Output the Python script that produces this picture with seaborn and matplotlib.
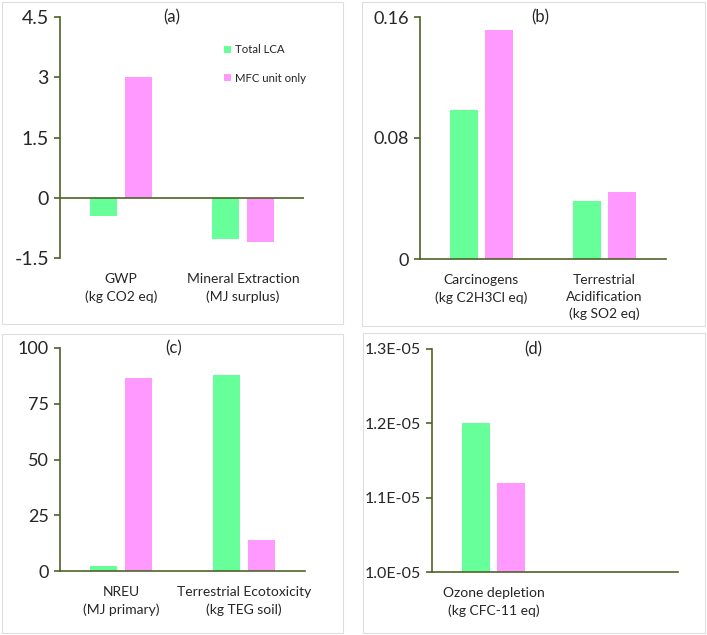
import numpy as np
import pandas as pd
import matplotlib
matplotlib.use("Agg")
import matplotlib.pyplot as plt
from matplotlib.patches import Rectangle, Patch
import seaborn as sns

#### Data
series = ["Total LCA", "MFC unit only"]
colors = {"Total LCA": "#66ff99", "MFC unit only": "#ff99ff"}

a_cats = ["GWP\n(kg CO2 eq)", "Mineral Extraction\n(MJ surplus)"]
a_total = [-0.45, -1.02]
a_mfc = [3.0, -1.1]
a_ticks = [-1.5, 0, 1.5, 3, 4.5]
a_ticklabels = ["-1.5", "0", "1.5", "3", "4.5"]

b_cats = ["Carcinogens\n(kg C2H3Cl eq)", "Terrestrial\nAcidification\n(kg SO2 eq)"]
b_total = [0.0985, 0.0383]
b_mfc = [0.1514, 0.0443]
b_ticks = [0, 0.08, 0.16]
b_ticklabels = ["0", "0.08", "0.16"]

c_cats = ["NREU\n(MJ primary)", "Terrestrial Ecotoxicity\n(kg TEG soil)"]
c_total = [2.2, 87.9]
c_mfc = [86.5, 13.9]
c_ticks = [0, 25, 50, 75, 100]
c_ticklabels = ["0", "25", "50", "75", "100"]

d_cats = ["Ozone depletion\n(kg CFC-11 eq)"]
d_total = [1.2e-05]
d_mfc = [1.12e-05]
d_ticks = [1.0e-05, 1.1e-05, 1.2e-05, 1.3e-05]
d_ticklabels = ["1.0E-05", "1.1E-05", "1.2E-05", "1.3E-05"]

#### Style
sns.set_style("white")
plt.rcParams['font.family'] = ['Lato', 'DejaVu Sans']
axis_col = "#4f6228"

W, H = 707, 635
fig = plt.figure(figsize=(W / 100, H / 100), dpi=100)


def px_axes(left, right, top, bottom):
    return fig.add_axes([left / W, 1 - bottom / H, (right - left) / W, (bottom - top) / H])


def long_df(cats, total, mfc):
    return pd.DataFrame({
        "cat": cats * 2,
        "series": [series[0]] * len(cats) + [series[1]] * len(cats),
        "value": list(total) + list(mfc),
    })


def draw_panel(ax, cats, total, mfc, ticks, ticklabels, ylim, tick_fs=13, zero_line=False):
    df = long_df(cats, total, mfc)
    sns.barplot(data=df, x="cat", y="value", hue="series", hue_order=series,
                palette=colors, width=0.57, gap=0.22, saturation=1,
                legend=False, ax=ax)
    ax.set_xlim(-0.5, 1.5)
    ax.set_ylim(*ylim)
    ax.set_yticks(ticks)
    ax.set_yticklabels(ticklabels, fontsize=tick_fs)
    ax.set_xticks(range(len(cats)))
    ax.set_xticklabels(cats, fontsize=10, linespacing=1.45)
    ax.set_xlabel("")
    ax.set_ylabel("")
    for s in ["top", "right"]:
        ax.spines[s].set_visible(False)
    ax.spines["left"].set_color(axis_col)
    ax.spines["left"].set_linewidth(1.2)
    if zero_line:
        ax.spines["bottom"].set_visible(False)
        ax.axhline(0, color=axis_col, lw=1.2, zorder=3)
    else:
        ax.spines["bottom"].set_color(axis_col)
        ax.spines["bottom"].set_linewidth(1.2)
    ax.tick_params(axis="y", left=True, length=4, width=1.2, color=axis_col, pad=4)
    ax.tick_params(axis="x", bottom=False, length=0, pad=11)
    for p in ax.patches:
        p.set_edgecolor("none")


ax_a = px_axes(60, 304, 17, 258)
draw_panel(ax_a, a_cats, a_total, a_mfc, a_ticks, a_ticklabels, (-1.5, 4.5),
           tick_fs=14, zero_line=True)
handles = [Patch(facecolor=colors[s], edgecolor="none") for s in series]
ax_a.legend(handles, series, loc="upper left", bbox_to_anchor=(0.655, 0.905),
            frameon=False, fontsize=8.2, handlelength=0.6, handleheight=0.6,
            handletextpad=0.3, labelspacing=1.5, borderaxespad=0)

ax_b = px_axes(420, 666, 17, 259)
draw_panel(ax_b, b_cats, b_total, b_mfc, b_ticks, b_ticklabels, (0, 0.16))

ax_c = px_axes(60, 305, 348, 571)
draw_panel(ax_c, c_cats, c_total, c_mfc, c_ticks, c_ticklabels, (0, 100))

ax_d = px_axes(432, 678, 349, 572)
draw_panel(ax_d, d_cats, d_total, d_mfc, d_ticks, d_ticklabels, (1.0e-05, 1.3e-05),
           tick_fs=11.5)

#### Panel letters
for label, x, y in [("(a)", 172, 17), ("(b)", 540, 17), ("(c)", 174, 348), ("(d)", 533, 349)]:
    fig.text(x / W, 1 - y / H, label, ha="center", va="center", fontsize=12)

#### Light panel frames
for x0, y0, x1, y1 in [(2, 2, 343, 324), (362, 2, 705, 326), (2, 334, 343, 633), (363, 333, 705, 633)]:
    fig.patches.append(Rectangle((x0 / W, 1 - y1 / H), (x1 - x0) / W, (y1 - y0) / H,
                                 transform=fig.transFigure, fill=False,
                                 edgecolor="#dedede", lw=0.8))

fig.savefig("out.png", dpi=100)
